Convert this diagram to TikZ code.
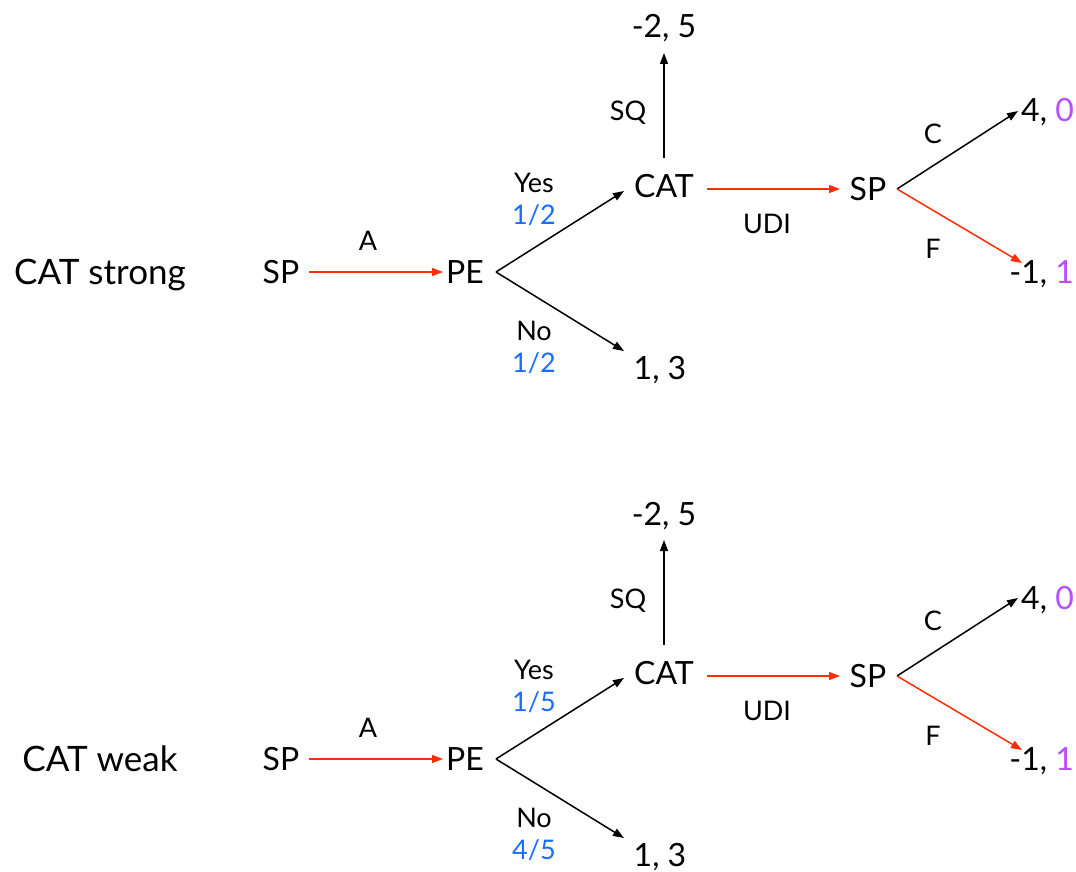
\documentclass[tikz,border=0pt]{standalone}
\usepackage{fontspec}
\setmainfont{Lato}
\usetikzlibrary{arrows.meta}
\definecolor{myred}{RGB}{255,45,0}
\definecolor{myblue}{RGB}{25,110,255}
\definecolor{mypurple}{RGB}{185,80,255}
\begin{document}
\begin{tikzpicture}[x=1pt,y=-1pt,
  lab/.style={font=\fontsize{32}{32}\selectfont, inner sep=0pt, anchor=base},
  side/.style={font=\fontsize{35}{35}\selectfont, inner sep=0pt, anchor=base},
  elab/.style={font=\fontsize{27}{27}\selectfont, inner sep=0pt, anchor=base},
  conn/.style={line width=1.5pt, -{Triangle[length=11pt,width=8pt]}},
  redconn/.style={conn, myred},
  blackconn/.style={conn, black}]
\useasboundingbox (0,0) rectangle (1076,872);
\foreach \dy/\side/\py/\pn in {0/CAT strong/1\slash 2/1\slash 2, 487/CAT weak/1\slash 5/4\slash 5}{
  \begin{scope}[yshift=-\dy pt]
  \node[side] (title) at (100,284) {\side};
  \node[lab] (sp1) at (281,283) {SP};
  \node[lab] (pe) at (465,283) {PE};
  \node[lab] (cat) at (664,197) {CAT};
  \node[lab] (sp2) at (868,200) {SP};
  \node[lab] (top) at (664,38) {-2, 5};
  \node[lab] (lo) at (660,379) {1, 3};
  \node[lab, anchor=base east] (c0) at (1074,122) {4, \textcolor{mypurple}{0}};
  \node[lab, anchor=base east] (f1) at (1074,283) {-1, \textcolor{mypurple}{1}};
  \coordinate (sp1e) at (309,272);
  \coordinate (pee) at (443,272);
  \coordinate (pes) at (496,272);
  \coordinate (yt) at (624,191);
  \coordinate (nt) at (624,351);
  \coordinate (cu) at (664,158);
  \coordinate (ct) at (664,53);
  \coordinate (cr) at (707,189);
  \coordinate (spl) at (840,189);
  \coordinate (sps) at (897,189);
  \coordinate (ctip) at (1018,111);
  \coordinate (ftip) at (1022,263);
  \draw[redconn] (sp1e) -- (pee);
  \draw[blackconn] (pes) -- (yt);
  \draw[blackconn] (pes) -- (nt);
  \draw[blackconn] (cu) -- (ct);
  \draw[redconn] (cr) -- (spl);
  \draw[blackconn] (sps) -- (ctip);
  \draw[redconn] (sps) -- (ftip);
  \node[elab] (la) at (368,250) {A};
  \node[elab] (lyes) at (534,192) {Yes};
  \node[elab, text=myblue] (lpy) at (534,224) {\py};
  \node[elab] (lno) at (534,340) {No};
  \node[elab, text=myblue] (lpn) at (534,372) {\pn};
  \node[elab] (lsq) at (628,121) {SQ};
  \node[elab] (ludi) at (767,233) {UDI};
  \node[elab] (lc) at (933,143) {C};
  \node[elab] (lf) at (933,258) {F};
  \end{scope}
}
\end{tikzpicture}
\end{document}
